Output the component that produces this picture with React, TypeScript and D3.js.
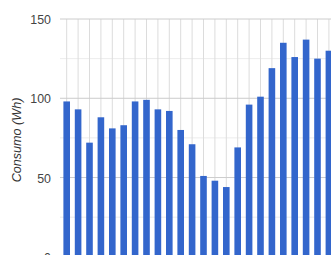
import React, { useEffect, useRef } from 'react';
import * as d3 from 'd3';

const hours = d3.range(24).map((i) => String(i));
const consumo = [98, 93, 72, 88, 81, 83, 98, 99, 93, 92, 80, 71, 51, 48, 44, 69, 96, 101, 119, 135, 126, 137, 125, 130];
const yTicks = [0, 50, 100, 150];
const yMinor = [25, 75, 125];

function App() {
    const ref = useRef<SVGSVGElement>(null);
    const width = 331;
    const height = 255;

    useEffect(() => {
        const svg = d3.select(ref.current);
        svg.selectAll('*').remove();

        const y = d3.scaleLinear().domain([0, 150]).range([256.8, 19]);
        const x = d3.scaleLinear().domain([0, hours.length - 1]).range([66.7, 66.7 + 11.4 * 23]);
        const barWidth = 6.6;
        const left = 60;

        // minor gridlines
        svg.append('g').selectAll('line').data(yMinor).join('line')
            .attr('x1', left).attr('x2', width)
            .attr('y1', (d) => y(d)).attr('y2', (d) => y(d))
            .attr('stroke', '#ececec').attr('stroke-width', 1);

        // vertical gridlines through each category
        svg.append('g').selectAll('line').data(hours).join('line')
            .attr('x1', (_, i) => x(i)).attr('x2', (_, i) => x(i))
            .attr('y1', y(150)).attr('y2', height)
            .attr('stroke', '#dcdcdc').attr('stroke-width', 1);

        // major gridlines
        svg.append('g').selectAll('line').data(yTicks).join('line')
            .attr('x1', left).attr('x2', width)
            .attr('y1', (d) => y(d)).attr('y2', (d) => y(d))
            .attr('stroke', '#cccccc').attr('stroke-width', 1);

        svg.append('g').selectAll('rect').data(consumo).join('rect')
            .attr('x', (_, i) => x(i) - barWidth / 2)
            .attr('y', (d) => y(d))
            .attr('width', barWidth)
            .attr('height', (d) => y(0) - y(d))
            .attr('fill', '#3366cc');

        svg.append('g').selectAll('text').data(yTicks).join('text')
            .attr('x', 51)
            .attr('y', (d) => y(d) + 1)
            .attr('text-anchor', 'end')
            .attr('dominant-baseline', 'central')
            .style('font-family', 'Liberation Sans, Arial, sans-serif')
            .style('font-size', '12.4px')
            .style('fill', '#444')
            .text((d) => d);

        svg.append('text')
            .attr('transform', `translate(17,140) rotate(-90)`)
            .attr('text-anchor', 'middle')
            .attr('dominant-baseline', 'central')
            .style('font-family', 'Liberation Sans, Arial, sans-serif')
            .style('font-size', '12.6px')
            .style('font-style', 'italic')
            .style('fill', '#333')
            .text('Consumo (Wh)');
    }, []);

    return (
        <svg
            ref={ref}
            width={width}
            height={height}
            style={{ position: 'absolute', left: 0, top: 0, background: '#fff' }}
        ></svg>
    );
}

export default App;
